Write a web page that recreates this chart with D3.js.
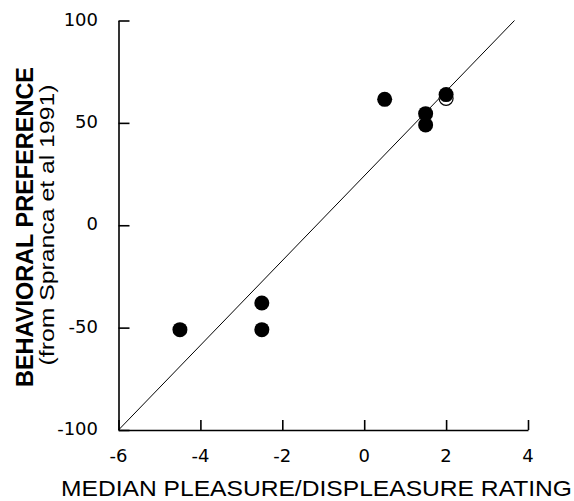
<!DOCTYPE html>
<html>
<head>
<meta charset="utf-8">
<script src="https://cdn.jsdelivr.net/npm/d3@7"></script>
<style>
body { margin: 0; background: #fff; }
</style>
</head>
<body>
<div id="chart"></div>
<script>
// data
var ratingX = [-4.5, -2.5, -2.5, 0.5, 1.5, 1.5, 2];
var preferenceY = [-51, -38, -51, 61.5, 54.5, 49, 63.8];
var openX = [2];
var openY = [62];
var fitX = [-6, 3.67];
var fitY = [-100, 100];
var xTicks = [-6, -4, -2, 0, 2, 4];
var yTicks = [-100, -50, 0, 50, 100];

var width = 574;
var height = 501;

var x = d3.scaleLinear().domain([-6, 4]).range([118.5, 528]);
var y = d3.scaleLinear().domain([-100, 100]).range([430, 20.5]);

var svg = d3.select("#chart").append("svg")
	.attr("width", width)
	.attr("height", height);

// axes, ticks pointing inward
var xAxis = svg.append("g")
	.attr("transform", "translate(0," + y(-100) + ")")
	.call(d3.axisTop(x).tickValues(xTicks).tickSize(10).tickSizeOuter(0).tickFormat(""));
var yAxis = svg.append("g")
	.attr("transform", "translate(" + x(-6) + ",0)")
	.call(d3.axisRight(y).tickValues(yTicks).tickSize(11).tickSizeOuter(0).tickFormat(""));
svg.selectAll(".domain, .tick line")
	.attr("stroke", "#000")
	.attr("stroke-width", 1.6);

// tick labels
svg.selectAll(".xlab")
	.data(xTicks)
	.enter().append("text")
	.attr("x", function(d) { return x(d); })
	.attr("y", 462)
	.attr("text-anchor", "middle")
	.attr("font-family", "DejaVu Sans")
	.attr("font-size", "18px")
	.attr("fill", "#000")
	.text(function(d) { return d; });
svg.selectAll(".ylab")
	.data(yTicks)
	.enter().append("text")
	.attr("x", 98)
	.attr("y", function(d) { return y(d) + 5; })
	.attr("text-anchor", "end")
	.attr("font-family", "DejaVu Sans")
	.attr("font-size", "18px")
	.attr("fill", "#000")
	.text(function(d) { return d; });

// fitted line
svg.append("line")
	.attr("x1", x(fitX[0]))
	.attr("y1", y(fitY[0]))
	.attr("x2", x(fitX[1]))
	.attr("y2", y(fitY[1]))
	.attr("stroke", "#000")
	.attr("stroke-width", 1);

// open point sits under the filled one
svg.selectAll(".open")
	.data(openX)
	.enter().append("circle")
	.attr("cx", function(d) { return x(d); })
	.attr("cy", function(d, i) { return y(openY[i]); })
	.attr("r", 7)
	.attr("fill", "#fff")
	.attr("stroke", "#000")
	.attr("stroke-width", 1.2);

svg.selectAll(".pt")
	.data(ratingX)
	.enter().append("circle")
	.attr("cx", function(d) { return x(d); })
	.attr("cy", function(d, i) { return y(preferenceY[i]); })
	.attr("r", 7.5)
	.attr("fill", "#000");

// axis titles
svg.append("text")
	.attr("x", 61)
	.attr("y", 496)
	.attr("font-family", "Liberation Sans")
	.attr("font-size", "22px")
	.attr("textLength", 511)
	.attr("lengthAdjust", "spacingAndGlyphs")
	.attr("fill", "#000")
	.text("MEDIAN PLEASURE/DISPLEASURE RATING");

svg.append("text")
	.attr("transform", "translate(32.5,227) rotate(-90)")
	.attr("text-anchor", "middle")
	.attr("font-family", "Liberation Sans")
	.attr("font-weight", "bold")
	.attr("font-size", "24px")
	.attr("textLength", 320)
	.attr("lengthAdjust", "spacingAndGlyphs")
	.attr("fill", "#000")
	.text("BEHAVIORAL PREFERENCE");

svg.append("text")
	.attr("transform", "translate(53.5,225) rotate(-90)")
	.attr("text-anchor", "middle")
	.attr("font-family", "Liberation Sans")
	.attr("font-size", "20px")
	.attr("textLength", 281)
	.attr("lengthAdjust", "spacingAndGlyphs")
	.attr("fill", "#000")
	.text("(from Spranca et al 1991)");
</script>
</body>
</html>
